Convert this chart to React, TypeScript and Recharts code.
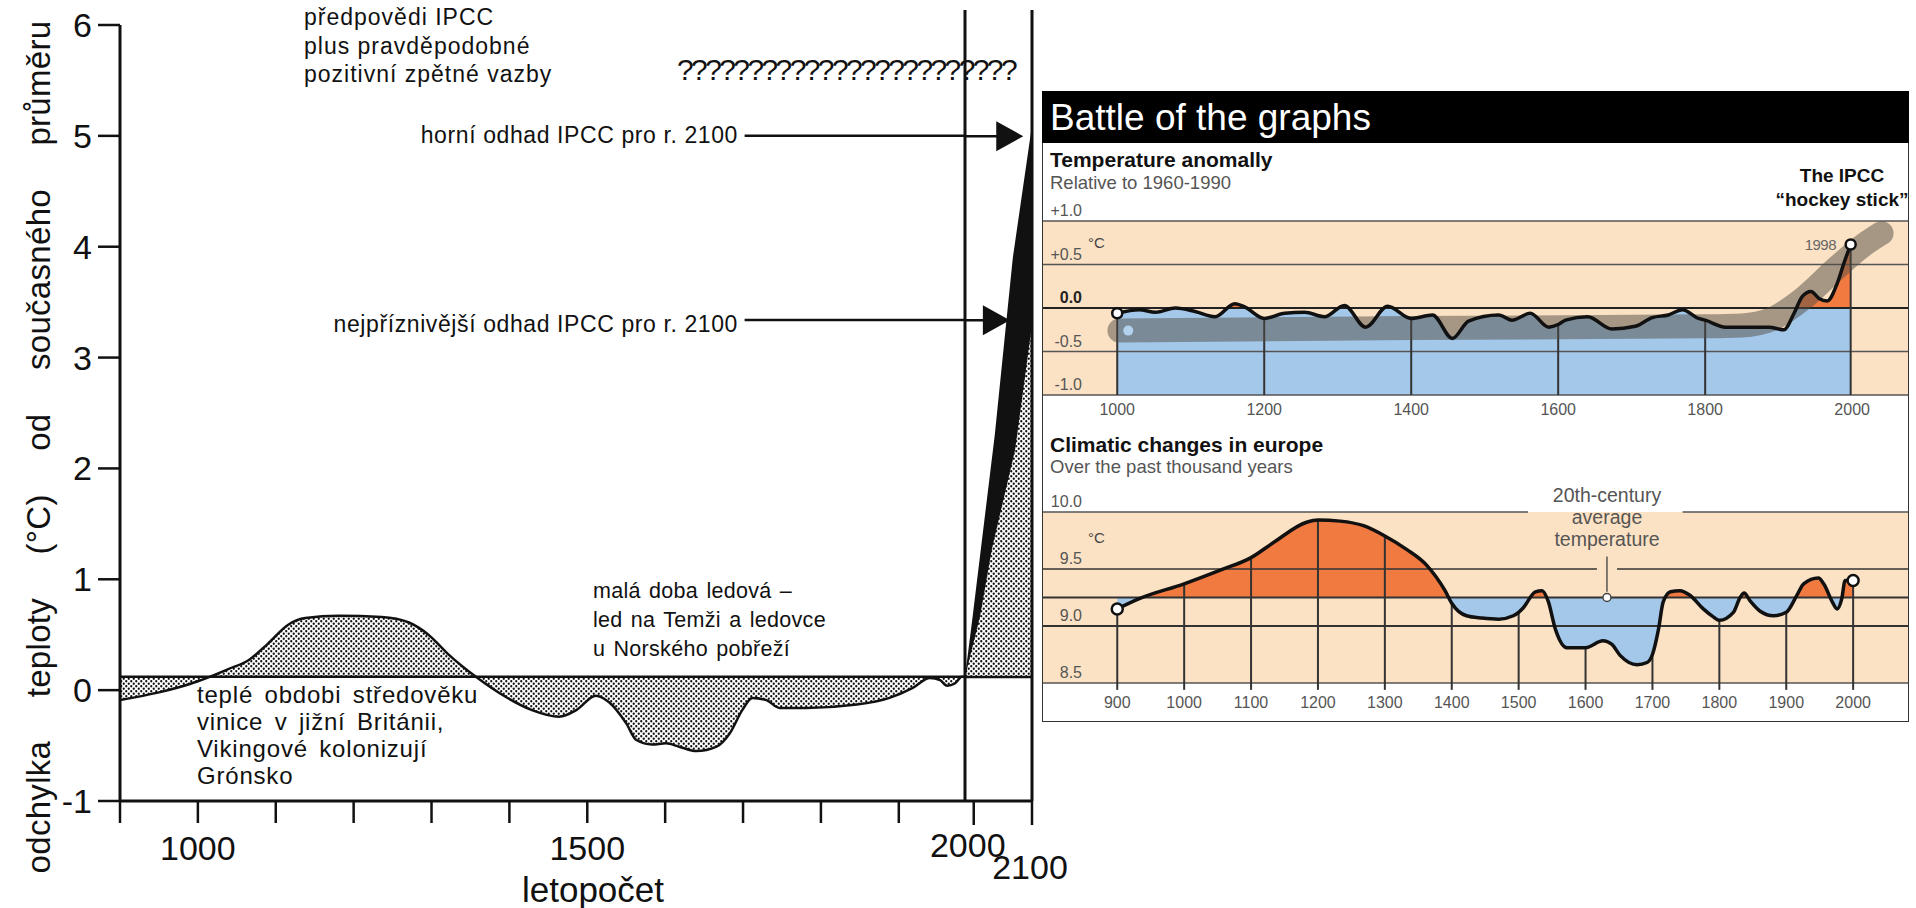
import React from "react";
import {
  ComposedChart,
  Area,
  Line,
  XAxis,
  YAxis,
  ReferenceLine,
  ReferenceArea,
  ReferenceDot,
} from "recharts";

const FONT = '"Liberation Sans", Arial, Helvetica, sans-serif';
const INK = "#111";
const PEACH = "#fce2c4";
const BLUE = "#a4c8e9";
const ORANGE = "#f07a40";

// ---------- Czech scan: deviation from present average (°C) ----------
const histYears = [900, 1000, 1039, 1065, 1090, 1116, 1138, 1181, 1236, 1271, 1296, 1322, 1357, 1395, 1429, 1464, 1486, 1511, 1528, 1550, 1563, 1583, 1601, 1618, 1640, 1666, 1683, 1699, 1712, 1730, 1747, 1781, 1846, 1888, 1918, 1940, 1953, 1962, 1972, 1981, 1985];
const histTemps = [-0.09, 0.08, 0.19, 0.27, 0.42, 0.59, 0.65, 0.67, 0.66, 0.61, 0.5, 0.32, 0.12, -0.06, -0.18, -0.24, -0.18, -0.05, -0.11, -0.3, -0.45, -0.49, -0.48, -0.51, -0.55, -0.51, -0.39, -0.18, -0.07, -0.09, -0.16, -0.16, -0.13, -0.07, 0.02, 0.11, 0.09, 0.04, 0.06, 0.12, 0.12];
const presentLevel = 0.12;

// IPCC projections up to 2100
const highYears = [1985, 1998, 2036, 2067, 2100];
const highTemps = [0.12, 0.66, 2.3, 3.9, 5.1];
const lowYears = [1985, 2011, 2031, 2071, 2100];
const lowTemps = [0.12, 0.67, 1.27, 2.17, 3.3];
const ipccUpper2100 = 5.0;
const ipccBest2100 = 3.34;

const leftYTicks = [-1, 0, 1, 2, 3, 4, 5, 6];
const leftXTicks = [900, 1000, 1100, 1200, 1300, 1400, 1500, 1600, 1700, 1800, 1900];
const leftXLabels = [1000, 1500];
const projXTicks = [2000, 2100];

// ---------- Temperature anomaly (relative to 1960-1990) ----------
const anomYears = [1000, 1030, 1052, 1079, 1106, 1133, 1160, 1174, 1200, 1228, 1255, 1282, 1309, 1338, 1368, 1400, 1429, 1456, 1478, 1519, 1537, 1562, 1587, 1600, 1610, 1640, 1673, 1705, 1728, 1750, 1769, 1791, 1800, 1828, 1855, 1887, 1907, 1921, 1932, 1944, 1955, 1966, 1980, 1989, 1998];
const anomTemps = [-0.06, -0.02, -0.05, 0.0, -0.04, -0.1, 0.05, 0.01, -0.12, -0.06, -0.05, -0.1, 0.03, -0.22, 0.02, -0.12, -0.08, -0.35, -0.15, -0.08, -0.14, -0.06, -0.22, -0.19, -0.14, -0.1, -0.24, -0.21, -0.11, -0.08, -0.02, -0.12, -0.14, -0.22, -0.22, -0.22, -0.25, -0.06, 0.13, 0.19, 0.11, 0.08, 0.29, 0.52, 0.73];
const stickYears = [1003, 1400, 1800, 1850, 1890, 1935, 1980, 2015, 2040];
const stickTemps = [-0.26, -0.23, -0.21, -0.2, -0.13, 0.12, 0.47, 0.72, 0.86];
const anomTicks = [1, 0.5, 0, -0.5, -1];
const anomTickLabels = ["+1.0", "+0.5", "0.0", "-0.5", "-1.0"];
const anomXTicks = [1000, 1200, 1400, 1600, 1800, 2000];
const anomDropYears = [1000, 1200, 1400, 1600, 1800, 1998];

// ---------- Climatic changes in Europe ----------
const euroYears = [900, 933, 1000, 1054, 1100, 1133, 1183, 1200, 1233, 1268, 1300, 1333, 1363, 1390, 1400, 1422, 1445, 1470, 1492, 1500, 1507, 1525, 1535, 1544, 1555, 1572, 1600, 1626, 1639, 1652, 1677, 1692, 1700, 1709, 1716, 1727, 1741, 1756, 1776, 1791, 1800, 1821, 1831, 1837, 1846, 1861, 1881, 1900, 1916, 1926, 1948, 1956, 1969, 1976, 1983, 1988, 2000];
const euroTemps = [9.15, 9.24, 9.37, 9.49, 9.6, 9.73, 9.91, 9.93, 9.92, 9.88, 9.79, 9.67, 9.53, 9.31, 9.2, 9.09, 9.07, 9.06, 9.09, 9.12, 9.16, 9.3, 9.31, 9.22, 8.97, 8.81, 8.81, 8.87, 8.84, 8.74, 8.66, 8.68, 8.75, 8.97, 9.21, 9.3, 9.31, 9.27, 9.15, 9.08, 9.05, 9.12, 9.25, 9.29, 9.22, 9.13, 9.09, 9.12, 9.27, 9.37, 9.42, 9.37, 9.21, 9.15, 9.24, 9.4, 9.4];
const euroAverage = 9.25;
const euroTicks = [10, 9.5, 9, 8.5];
const euroTickLabels = ["10.0", "9.5", "9.0", "8.5"];
const euroXTicks = [900, 1000, 1100, 1200, 1300, 1400, 1500, 1600, 1700, 1800, 1900, 2000];
const avgMarkYear = 1632;

const histData = histYears.map((year, i) => ({ year, temp: histTemps[i] }));
const highData = highYears.map((year, i) => ({ year, v: highTemps[i] }));
const lowData = lowYears.map((year, i) => ({ year, v: lowTemps[i] }));
const anomData = anomYears.map((year, i) => ({ year, t: anomTemps[i] }));
const stickData = stickYears.map((year, i) => ({ year, v: stickTemps[i] }));
const euroData = euroYears.map((year, i) => ({ year, t: euroTemps[i] }));

const anomMax = Math.max(...anomTemps);
const anomSplit = anomMax / (anomMax + 1);
const euroMax = Math.max(...euroTemps);
const euroMin = Math.min(...euroTemps);
const euroSplit = (euroMax - euroAverage) / (euroMax - euroMin);

const valueAt = (data: { year: number; t: number }[], year: number) =>
  data.find((d) => d.year === year)?.t ?? 0;

// text placed by its baseline
function T({ x, base, size, children, align = "left", bold = false, color = INK, ls = 0, ws = 0 }: any) {
  const style: React.CSSProperties = {
    position: "absolute",
    top: base - 0.847 * size,
    fontSize: size,
    lineHeight: 1,
    fontFamily: FONT,
    fontWeight: bold ? 700 : 400,
    color,
    whiteSpace: "nowrap",
    letterSpacing: ls,
    wordSpacing: ws,
  };
  if (align === "right") style.right = 1916 - x;
  else if (align === "center") {
    style.left = x;
    style.transform = "translateX(-50%)";
  } else style.left = x;
  return <div style={style}>{children}</div>;
}

const sideLabel = (text: string, bold = false) => (p: any) => {
  const vb = p.viewBox || { x: 0, y: 0 };
  return (
    <text x={vb.x + 39} y={vb.y - 5} textAnchor="end" fontSize={16} fontFamily={FONT}
      fontWeight={bold ? 700 : 400} fill={bold ? "#222" : "#555"}>
      {text}
    </text>
  );
};

const arrowHead = (p: any) => (
  <polygon points={`${p.cx - 27},${p.cy - 15} ${p.cx},${p.cy} ${p.cx - 27},${p.cy + 15}`} fill={INK} />
);

const ProjTick = (props: any) => {
  const { x, y, payload } = props;
  const last = payload.value === 2100;
  return (
    <text x={x + (last ? -2 : -6)} y={y + (last ? 22 : 0)} dy="0.71em" textAnchor="middle"
      fontSize={34} fontFamily={FONT} fill={INK}>
      {payload.value}
    </text>
  );
};

function CzechChart() {
  return (
    <>
      <div style={{ position: "absolute", left: 0, top: 0 }}>
        <ComposedChart width={966} height={908} data={histData} margin={{ top: 25, right: 1, left: 0, bottom: 0 }}>
          <defs>
            <pattern id="dotsA" width="5" height="5" patternUnits="userSpaceOnUse">
              <circle cx="1.25" cy="1.25" r="1.15" fill={INK} />
              <circle cx="3.75" cy="3.75" r="1.15" fill={INK} />
            </pattern>
          </defs>
          <XAxis dataKey="year" type="number" domain={[900, 1985]} ticks={leftXTicks} interval={0}
            tickFormatter={(v: number) => (leftXLabels.includes(v) ? String(v) : "")}
            height={107} tickSize={22} tickMargin={13}
            axisLine={{ stroke: INK, strokeWidth: 3 }} tickLine={{ stroke: INK, strokeWidth: 2.5 }}
            tick={{ fill: INK, fontSize: 34, fontFamily: FONT }} />
          <YAxis type="number" domain={[-1, 6]} ticks={leftYTicks} interval={0} width={120}
            tickSize={22} tickMargin={6}
            axisLine={{ stroke: INK, strokeWidth: 3 }} tickLine={{ stroke: INK, strokeWidth: 2.5 }}
            tick={{ fill: INK, fontSize: 34, fontFamily: FONT }} />
          <Area dataKey="temp" type="monotone" baseValue={presentLevel} fill="url(#dotsA)" fillOpacity={1}
            stroke={INK} strokeWidth={2.5} dot={false} activeDot={false} isAnimationActive={false} />
          <ReferenceLine y={presentLevel} stroke={INK} strokeWidth={2.5} />
          <ReferenceLine segment={[{ x: 1702, y: ipccUpper2100 }, { x: 1985, y: ipccUpper2100 }]} stroke={INK} strokeWidth={2.5} />
          <ReferenceLine segment={[{ x: 1702, y: ipccBest2100 }, { x: 1985, y: ipccBest2100 }]} stroke={INK} strokeWidth={2.5} />
        </ComposedChart>
      </div>
      <div style={{ position: "absolute", left: 900, top: 0 }}>
        <ComposedChart width={200} height={908} margin={{ top: 10, right: 68, left: 65, bottom: 0 }}>
          <defs>
            <pattern id="dotsB" width="5" height="5" patternUnits="userSpaceOnUse">
              <rect width="5" height="5" fill="#fff" />
              <circle cx="1.25" cy="1.25" r="1.15" fill={INK} />
              <circle cx="3.75" cy="3.75" r="1.15" fill={INK} />
            </pattern>
          </defs>
          <XAxis dataKey="year" type="number" domain={[1985, 2100]} ticks={projXTicks} interval={0}
            height={107} tickSize={24} tickMargin={8}
            axisLine={{ stroke: INK, strokeWidth: 3 }} tickLine={{ stroke: INK, strokeWidth: 2.5 }}
            tick={ProjTick} />
          <YAxis type="number" domain={[-1, 6.14]} hide />
          <Area data={highData} dataKey="v" type="linear" baseValue={presentLevel} fill={INK} fillOpacity={1}
            stroke="none" dot={false} activeDot={false} isAnimationActive={false} />
          <Area data={lowData} dataKey="v" type="linear" baseValue={presentLevel} fill="url(#dotsB)" fillOpacity={1}
            stroke="none" dot={false} activeDot={false} isAnimationActive={false} />
          <ReferenceLine y={presentLevel} stroke={INK} strokeWidth={2.5} />
          <ReferenceLine x={1985} stroke={INK} strokeWidth={3} />
          <ReferenceLine x={2100} stroke={INK} strokeWidth={3} />
          <ReferenceLine segment={[{ x: 1985, y: ipccUpper2100 }, { x: 2070, y: ipccUpper2100 }]} stroke={INK} strokeWidth={2.5} />
          <ReferenceLine segment={[{ x: 1985, y: ipccBest2100 }, { x: 2050, y: ipccBest2100 }]} stroke={INK} strokeWidth={2.5} />
          <ReferenceDot x={2085} y={ipccUpper2100} r={4} shape={arrowHead} />
          <ReferenceDot x={2062} y={ipccBest2100} r={4} shape={arrowHead} />
        </ComposedChart>
      </div>

      <div style={{
        position: "absolute", left: 38, top: 447, transform: "translate(-50%, -50%) rotate(-90deg)",
        fontSize: 33, lineHeight: 1, fontFamily: FONT, color: INK, whiteSpace: "nowrap",
        letterSpacing: 0.3, wordSpacing: 34,
      }}>
        odchylka teploty (°C) od současného průměru
      </div>
      <T x={593} base={902} size={35} align="center">letopočet</T>

      <T x={304} base={25} size={23} ls={1}>předpovědi IPCC</T>
      <T x={304} base={54} size={23} ls={1}>plus pravděpodobné</T>
      <T x={304} base={82} size={23} ls={1}>pozitivní zpětné vazby</T>
      <T x={677} base={80} size={30} ls={-2.6}>????????????????????????</T>
      <T x={738} base={143} size={23} ls={0.6} align="right">horní odhad IPCC pro r. 2100</T>
      <T x={738} base={332} size={23} ls={0.6} align="right">nejpříznivější odhad IPCC pro r. 2100</T>

      <T x={197} base={703} size={24} ls={0.8} ws={4}>teplé obdobi středověku</T>
      <T x={197} base={730} size={24} ls={0.8} ws={4}>vinice v jižní Británii,</T>
      <T x={197} base={757} size={24} ls={0.8} ws={4}>Vikingové kolonizují</T>
      <T x={197} base={784} size={24} ls={0.8} ws={4}>Grónsko</T>

      <T x={593} base={599} size={21.5} ls={0.3} ws={2}>malá doba ledová –</T>
      <T x={593} base={628} size={21.5} ls={0.3} ws={2}>led na Temži a ledovce</T>
      <T x={593} base={657} size={21.5} ls={0.3} ws={2}>u Norského pobřeží</T>
    </>
  );
}

function AnomalyChart() {
  return (
    <div style={{ position: "absolute", left: 1043, top: 200 }}>
      <ComposedChart width={865} height={225} margin={{ top: 21, right: 0, left: 0, bottom: 0 }}>
        <defs>
          <linearGradient id="anomFill" x1="0" y1="0" x2="0" y2="1">
            <stop offset={anomSplit} stopColor={ORANGE} />
            <stop offset={anomSplit} stopColor={BLUE} />
          </linearGradient>
        </defs>
        <XAxis dataKey="year" type="number" domain={[899, 2076]} ticks={anomXTicks} interval={0}
          height={30} axisLine={false} tickLine={false} tickMargin={3}
          tick={{ fill: "#555", fontSize: 16, fontFamily: FONT }} />
        <YAxis type="number" domain={[-1, 1]} hide />
        <ReferenceArea y1={-1} y2={1} fill={PEACH} fillOpacity={1} stroke="none" />
        <Area data={anomData} dataKey="t" type="monotone" baseValue={-1} fill="url(#anomFill)" fillOpacity={1}
          stroke="none" dot={false} activeDot={false} isAnimationActive={false} />
        {anomTicks.map((v, i) => (
          <ReferenceLine key={v} y={v} stroke={v === 0 ? "#222" : "#555"} strokeWidth={v === 0 ? 2 : 1.4}
            label={sideLabel(anomTickLabels[i], v === 0)} />
        ))}
        {anomDropYears.map((yr) => (
          <ReferenceLine key={yr} segment={[{ x: yr, y: -1 }, { x: yr, y: valueAt(anomData, yr) }]}
            stroke="#333" strokeWidth={2} />
        ))}
        <Line data={stickData} dataKey="v" type="monotone" stroke="rgba(80,75,70,0.5)" strokeWidth={24}
          strokeLinecap="round" strokeLinejoin="round" dot={false} activeDot={false} isAnimationActive={false} />
        <ReferenceDot x={1015} y={-0.26} r={5} fill="#b3d2ee" stroke="none" />
        <Line data={anomData} dataKey="t" type="monotone" stroke={INK} strokeWidth={3.5}
          dot={false} activeDot={false} isAnimationActive={false} />
        <ReferenceDot x={anomYears[0]} y={anomTemps[0]} r={5} fill="#fff" stroke={INK} strokeWidth={2.5} />
        <ReferenceDot x={anomYears[anomYears.length - 1]} y={anomTemps[anomTemps.length - 1]} r={5}
          fill="#fff" stroke={INK} strokeWidth={2.5} />
      </ComposedChart>
    </div>
  );
}

function EuropeChart() {
  return (
    <div style={{ position: "absolute", left: 1043, top: 480 }}>
      <ComposedChart width={865} height={240} margin={{ top: 32, right: 0, left: 0, bottom: 0 }}>
        <defs>
          <linearGradient id="euroFill" x1="0" y1="0" x2="0" y2="1">
            <stop offset={euroSplit} stopColor={ORANGE} />
            <stop offset={euroSplit} stopColor={BLUE} />
          </linearGradient>
        </defs>
        <XAxis dataKey="year" type="number" domain={[789, 2082]} ticks={euroXTicks} interval={0}
          height={37} axisLine={false} tickLine={false} tickMargin={8}
          tick={{ fill: "#555", fontSize: 16, fontFamily: FONT }} />
        <YAxis type="number" domain={[8.5, 10]} hide />
        <ReferenceArea y1={8.5} y2={10} fill={PEACH} fillOpacity={1} stroke="none" />
        <Area data={euroData} dataKey="t" type="monotone" baseValue={euroAverage} fill="url(#euroFill)" fillOpacity={1}
          stroke="none" dot={false} activeDot={false} isAnimationActive={false} />
        <ReferenceLine segment={[{ x: 789, y: 10 }, { x: 1514, y: 10 }]} stroke="#555" strokeWidth={1.5}
          label={sideLabel(euroTickLabels[0])} />
        <ReferenceLine segment={[{ x: 1745, y: 10 }, { x: 2082, y: 10 }]} stroke="#555" strokeWidth={1.5} />
        <ReferenceLine segment={[{ x: 789, y: 9.5 }, { x: 1617, y: 9.5 }]} stroke="#333" strokeWidth={1.5}
          label={sideLabel(euroTickLabels[1])} />
        <ReferenceLine segment={[{ x: 1647, y: 9.5 }, { x: 2082, y: 9.5 }]} stroke="#333" strokeWidth={1.5} />
        <ReferenceLine y={euroAverage} stroke="#333" strokeWidth={2} />
        <ReferenceLine y={9} stroke="#333" strokeWidth={2} label={sideLabel(euroTickLabels[2])} />
        <ReferenceLine y={8.5} stroke="#555" strokeWidth={1.5} label={sideLabel(euroTickLabels[3])} />
        {euroXTicks.map((yr) => (
          <ReferenceLine key={yr} segment={[{ x: yr, y: 8.44 }, { x: yr, y: valueAt(euroData, yr) }]}
            stroke="#333" strokeWidth={2} ifOverflow="visible" />
        ))}
        <ReferenceLine segment={[{ x: avgMarkYear, y: 9.3 }, { x: avgMarkYear, y: 9.61 }]} stroke="#555" strokeWidth={1.5} />
        <ReferenceDot x={avgMarkYear} y={euroAverage} r={4} fill="#fff" stroke="#444" strokeWidth={1.5} />
        <Line data={euroData} dataKey="t" type="monotone" stroke={INK} strokeWidth={3.5}
          dot={false} activeDot={false} isAnimationActive={false} />
        <ReferenceDot x={euroYears[0]} y={euroTemps[0]} r={5.5} fill="#fff" stroke={INK} strokeWidth={2.5} />
        <ReferenceDot x={euroYears[euroYears.length - 1]} y={euroTemps[euroTemps.length - 1]} r={5.5}
          fill="#fff" stroke={INK} strokeWidth={2.5} />
      </ComposedChart>
    </div>
  );
}

export default function App() {
  return (
    <div style={{ position: "absolute", left: 0, top: 0, width: 1916, height: 908, overflow: "hidden", background: "#fff", fontFamily: FONT }}>
      <CzechChart />

      {/* right panel: Battle of the graphs */}
      <div style={{ position: "absolute", left: 1042, top: 91, width: 867, height: 631, border: "1.5px solid #333", boxSizing: "border-box", background: "#fff" }} />
      <div style={{ position: "absolute", left: 1042, top: 91, width: 867, height: 52, background: "#000" }} />
      <T x={1050} base={130} size={37} color="#fff">Battle of the graphs</T>

      <AnomalyChart />
      <EuropeChart />

      <T x={1050} base={167} size={21} bold>Temperature anomally</T>
      <T x={1050} base={190} size={18.5} color="#555">Relative to 1960-1990</T>
      <T x={1088} base={248} size={15} color="#444">°C</T>
      <T x={1842} base={182} size={19} bold align="center">The IPCC</T>
      <T x={1842} base={206} size={19} bold align="center">“hockey stick”</T>
      <T x={1836} base={250} size={15} color="#666" align="right" ls={-0.5}>1998</T>

      <T x={1050} base={452} size={21} bold>Climatic changes in europe</T>
      <T x={1050} base={474} size={18.5} color="#555">Over the past thousand years</T>
      <T x={1088} base={543} size={15} color="#444">°C</T>
      <T x={1607} base={503} size={19.5} color="#555" align="center">20th-century</T>
      <T x={1607} base={525} size={19.5} color="#555" align="center">average</T>
      <T x={1607} base={547} size={19.5} color="#555" align="center">temperature</T>
    </div>
  );
}
